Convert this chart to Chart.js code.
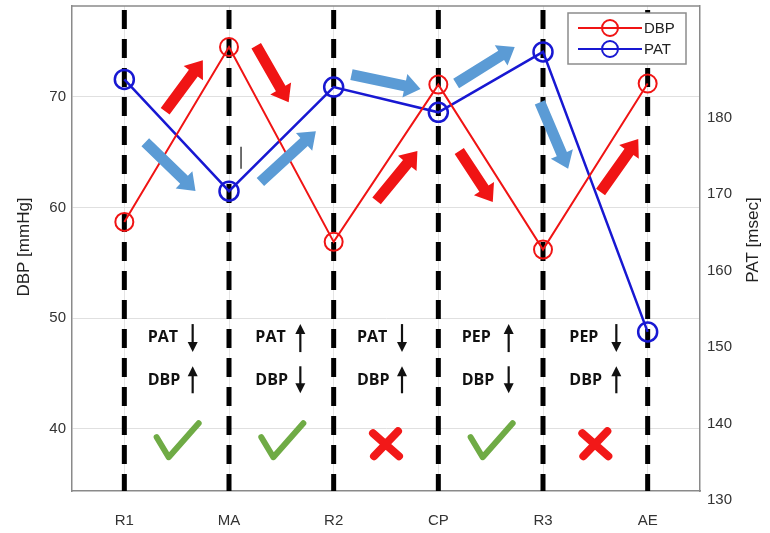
<!DOCTYPE html>
<html>
<head>
<meta charset="utf-8">
<script src="https://cdn.jsdelivr.net/npm/chart.js@4"></script>
<style>
  html, body { margin: 0; padding: 0; background: #fff; }
  #wrap { width: 770px; height: 533px; position: relative; }
</style>
</head>
<body>
<div id="wrap"><canvas id="chart"></canvas></div>
<script>
// ── DATA ──
const categories = ['R1', 'MA', 'R2', 'CP', 'R3', 'AE'];
const dbpValues  = [58.7, 74.5, 56.9, 71.1, 56.2, 71.2];
const patValues  = [185.0, 170.4, 184.0, 180.7, 188.6, 152.0];
const dbpTicks   = [40, 50, 60, 70];
const patTicks   = [130, 140, 150, 160, 170, 180];

// trend notes between stages: [label, up?]
const noteTop    = [['PAT', false], ['PAT', true], ['PAT', false], ['PEP', true], ['PEP', false]];
const noteBottom = [['DBP', true], ['DBP', false], ['DBP', true], ['DBP', false], ['DBP', true]];
const verdicts   = [true, true, false, true, false];

// block arrows, in (category index, DBP) terms: [x1, v1, x2, v2]
const redArrows = [
    [0.39, 68.7, 0.75, 73.3],
    [1.26, 74.6, 1.57, 69.5],
    [2.41, 60.6, 2.80, 65.1],
    [3.20, 65.1, 3.52, 60.5],
    [4.55, 61.4, 4.91, 66.2],
];
const blueArrows = [
    [0.20, 65.9, 0.68, 61.5],
    [1.30, 62.3, 1.83, 66.9],
    [2.17, 72.0, 2.83, 70.7],
    [3.17, 71.2, 3.73, 74.5],
    [3.97, 69.5, 4.24, 63.5],
];

const RED  = '#f01414';
const BLUE = '#1818d2';
const AXIS = '#8a8a8a';
const TXT  = '#333';
const tickFont = { family: '"Liberation Sans", Arial, sans-serif', size: 15 };

// ── DRAW HELPERS ──
function blockArrow(ctx, x1, y1, x2, y2, color) {
    const len = Math.hypot(x2 - x1, y2 - y1);
    const sw = 5.5, hw = 12, hl = 16;
    ctx.save();
    ctx.translate(x1, y1);
    ctx.rotate(Math.atan2(y2 - y1, x2 - x1));
    ctx.beginPath();
    ctx.moveTo(0, -sw);
    ctx.lineTo(len - hl, -sw);
    ctx.lineTo(len - hl, -hw);
    ctx.lineTo(len, 0);
    ctx.lineTo(len - hl, hw);
    ctx.lineTo(len - hl, sw);
    ctx.lineTo(0, sw);
    ctx.closePath();
    ctx.fillStyle = color;
    ctx.fill();
    ctx.restore();
}

function thinArrow(ctx, x, yTop, yBot, up) {
    ctx.save();
    ctx.strokeStyle = '#111';
    ctx.fillStyle = '#111';
    ctx.lineWidth = 2.2;
    ctx.beginPath();
    ctx.moveTo(x, up ? yTop + 6 : yTop);
    ctx.lineTo(x, up ? yBot : yBot - 6);
    ctx.stroke();
    const ty = up ? yTop : yBot;
    const d = up ? 1 : -1;
    ctx.beginPath();
    ctx.moveTo(x, ty);
    ctx.lineTo(x - 5, ty + d * 10);
    ctx.lineTo(x + 5, ty + d * 10);
    ctx.closePath();
    ctx.fill();
    ctx.restore();
}

function checkMark(ctx, cx, cy) {
    ctx.save();
    ctx.strokeStyle = '#6fab45';
    ctx.lineWidth = 6;
    ctx.lineJoin = 'round';
    ctx.lineCap = 'round';
    ctx.beginPath();
    ctx.moveTo(cx - 20, cy - 4);
    ctx.lineTo(cx - 8, cy + 16);
    ctx.lineTo(cx + 22, cy - 18);
    ctx.stroke();
    ctx.restore();
}

function crossMark(ctx, cx, cy) {
    ctx.save();
    ctx.strokeStyle = '#f21818';
    ctx.lineWidth = 8;
    ctx.lineCap = 'round';
    ctx.beginPath();
    ctx.moveTo(cx - 13, cy - 11);
    ctx.lineTo(cx + 13, cy + 12);
    ctx.moveTo(cx + 12, cy - 13);
    ctx.lineTo(cx - 12, cy + 12);
    ctx.stroke();
    ctx.restore();
}

// ── PLUGIN: frame, dashed stage lines, notes, legend ──
const decor = {
    id: 'decor',
    beforeDatasetsDraw(chart) {
        const { ctx, chartArea: a, scales } = chart;
        const xs = scales.x;
        ctx.save();
        ctx.strokeStyle = '#000';
        ctx.lineWidth = 5;
        ctx.setLineDash([19, 10]);
        categories.forEach((c, i) => {
            const x = xs.getPixelForValue(i);
            ctx.beginPath();
            ctx.moveTo(x, a.top + 4);
            ctx.lineTo(x, a.bottom);
            ctx.stroke();
        });
        ctx.restore();
    },
    afterDatasetsDraw(chart) {
        const { ctx, scales } = chart;
        const xs = scales.x, yl = scales.yL;
        const x0 = xs.getPixelForValue(0), step = xs.getPixelForValue(1) - x0;
        const px = i => x0 + step * i;
        const py = v => yl.getPixelForValue(v);

        redArrows.forEach(r => blockArrow(ctx, px(r[0]), py(r[1]), px(r[2]), py(r[3]), RED));
        blueArrows.forEach(r => blockArrow(ctx, px(r[0]), py(r[1]), px(r[2]), py(r[3]), '#5b9bd5'));

        // stray tick mark in the source figure
        ctx.save();
        ctx.strokeStyle = '#222';
        ctx.lineWidth = 1.3;
        ctx.beginPath();
        ctx.moveTo(px(1.115), py(65.5));
        ctx.lineTo(px(1.115), py(63.5));
        ctx.stroke();
        ctx.restore();

        // notes
        ctx.save();
        ctx.font = 'bold 16px "Open Sans", sans-serif';
        ctx.fillStyle = '#111';
        ctx.textBaseline = 'middle';
        for (let i = 0; i < noteTop.length; i++) {
            const mid = (xs.getPixelForValue(i) + xs.getPixelForValue(i + 1)) / 2;
            const tx = mid - 29 + (i === 1 || i === 4 ? 3 : 0);
            const yT = py(48.3), yB = py(44.4);
            ctx.fillText(noteTop[i][0], tx, yT);
            ctx.fillText(noteBottom[i][0], tx, yB);
            const ax = tx + (noteTop[i][0] === 'PAT' ? 45 : 47);
            thinArrow(ctx, ax, yT - 13, yT + 15, noteTop[i][1]);
            thinArrow(ctx, ax, yB - 14, yB + 13, noteBottom[i][1]);
            const cy = py(38.9);
            if (verdicts[i]) checkMark(ctx, mid, cy);
            else crossMark(ctx, mid, cy + 3);
        }
        ctx.restore();
    },
    afterDraw(chart) {
        const { ctx, chartArea: a } = chart;
        ctx.save();
        // top frame line
        ctx.strokeStyle = AXIS;
        ctx.lineWidth = 1.5;
        ctx.beginPath();
        ctx.moveTo(a.left, a.top);
        ctx.lineTo(a.right, a.top);
        ctx.stroke();

        // axis titles, both reading bottom to top
        ctx.fillStyle = '#222';
        ctx.font = '17px "Liberation Sans", Arial, sans-serif';
        ctx.textAlign = 'center';
        ctx.textBaseline = 'middle';
        [[a.left - 48, 247, 'DBP [mmHg]'], [a.right + 53, 240, 'PAT [msec]']].forEach(t => {
            ctx.save();
            ctx.translate(t[0], t[1]);
            ctx.rotate(-Math.PI / 2);
            ctx.fillText(t[2], 0, 0);
            ctx.restore();
        });

        // legend
        const lx = a.right - 132, ly = a.top + 7, lw = 118, lh = 51;
        ctx.fillStyle = '#fff';
        ctx.fillRect(lx, ly, lw, lh);
        ctx.strokeStyle = '#8c8c8c';
        ctx.lineWidth = 1.5;
        ctx.strokeRect(lx, ly, lw, lh);
        ctx.font = '15px "Liberation Sans", Arial, sans-serif';
        ctx.textAlign = 'left';
        chart.data.datasets.forEach((ds, i) => {
            const yy = ly + 15 + i * 21;
            ctx.strokeStyle = ds.borderColor;
            ctx.lineWidth = 2;
            ctx.beginPath();
            ctx.moveTo(lx + 10, yy);
            ctx.lineTo(lx + 74, yy);
            ctx.stroke();
            ctx.beginPath();
            ctx.arc(lx + 42, yy, 8, 0, Math.PI * 2);
            ctx.stroke();
            ctx.fillStyle = '#222';
            ctx.fillText(ds.label, lx + 76, yy + 1);
        });
        ctx.restore();
    }
};

const fitY = w => s => { s.width = w; s.paddingTop = 0; s.paddingBottom = 0; };

// ── CHART ──
new Chart(document.getElementById('chart'), {
    type: 'line',
    data: {
        labels: categories,
        datasets: [
            {
                label: 'DBP',
                data: dbpValues,
                yAxisID: 'yL',
                borderColor: RED,
                borderWidth: 2,
                pointRadius: 9,
                pointHoverRadius: 9,
                pointBorderWidth: 2,
                pointBackgroundColor: 'rgba(0,0,0,0)',
                tension: 0,
            },
            {
                label: 'PAT',
                data: patValues,
                yAxisID: 'yR',
                borderColor: BLUE,
                borderWidth: 2.5,
                pointRadius: 9.5,
                pointHoverRadius: 9.5,
                pointBorderWidth: 2.5,
                pointBackgroundColor: 'rgba(0,0,0,0)',
                tension: 0,
            }
        ]
    },
    options: {
        responsive: true,
        maintainAspectRatio: false,
        animation: false,
        layout: { autoPadding: false, padding: { top: 6, left: 0, right: 0, bottom: 0 } },
        plugins: { legend: { display: false }, tooltip: { enabled: false } },
        scales: {
            x: {
                offset: true,
                grid: { offset: false, color: '#e4e4e4', lineWidth: 1, drawTicks: false },
                border: { color: AXIS, width: 1.5 },
                ticks: { color: TXT, font: tickFont, padding: 21 },
                afterFit: s => { s.height = 42; s.paddingLeft = 0; s.paddingRight = 0; }
            },
            yL: {
                position: 'left',
                min: 34.4,
                max: 78.2,
                afterBuildTicks: s => { s.ticks = dbpTicks.map(v => ({ value: v })); },
                grid: { color: '#e0e0e0', lineWidth: 1, drawTicks: false },
                border: { color: AXIS, width: 1.5 },
                ticks: { color: TXT, font: tickFont, padding: 6 },
                afterFit: fitY(72)
            },
            yR: {
                position: 'right',
                min: 131.2,
                max: 194.6,
                afterBuildTicks: s => { s.ticks = patTicks.map(v => ({ value: v })); },
                grid: { display: false, drawTicks: false },
                border: { color: AXIS, width: 1.5 },
                ticks: { color: TXT, font: tickFont, padding: 7 },
                afterFit: fitY(70)
            }
        }
    },
    plugins: [decor]
});
</script>
</body>
</html>
